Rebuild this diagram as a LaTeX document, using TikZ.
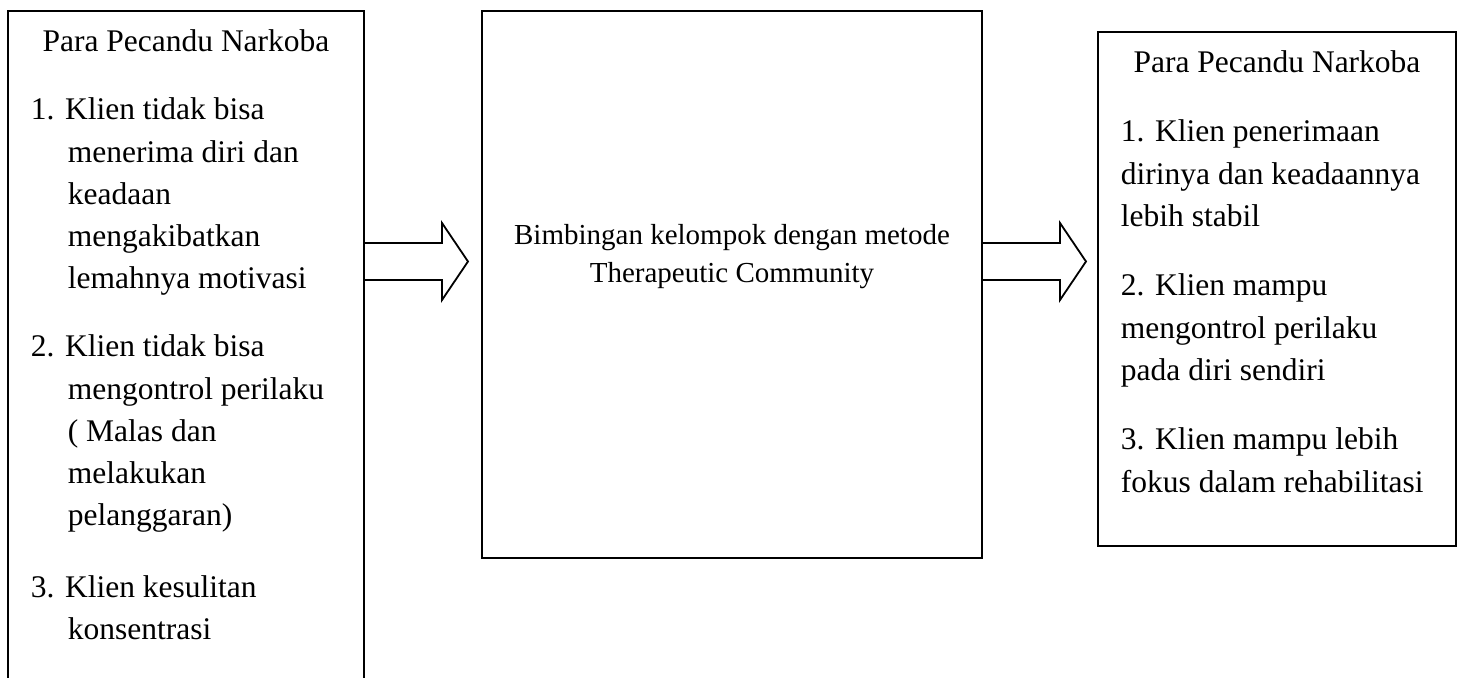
\documentclass[tikz,border=0pt]{standalone}
\usepackage{fontspec}
\setmainfont{Liberation Serif}
\usetikzlibrary{calc}
\newcommand{\tlines}[1]{\begin{tabular}[t]{@{}l@{}}#1\end{tabular}}
\newcommand{\clines}[1]{\begin{tabular}[t]{@{}c@{}}#1\end{tabular}}
\begin{document}
\begin{tikzpicture}[x=0.5pt,y=-0.5pt,line width=0.9pt,
  boxnode/.style={inner sep=0pt,outer sep=0pt,anchor=north west},
  bigtext/.style={font=\fontsize{15.75}{21.1}\selectfont,inner sep=0pt},
  midtext/.style={font=\fontsize{14.5}{19}\selectfont,inner sep=0pt},
  blockarrow/.style={draw,line join=miter}]
\useasboundingbox (0,0) rectangle (1463,678);
% boxes
\node[boxnode,minimum width=178pt,minimum height=333.5pt] (L) at (8,11) {};
\draw (L.south west) -- (L.north west) -- (L.north east) -- (L.south east);
\node[boxnode,draw,minimum width=250pt,minimum height=273.5pt] (M) at (482,11) {};
\node[boxnode,draw,minimum width=179pt,minimum height=257pt] (R) at (1098,32) {};
% block arrows
\draw[blockarrow] ($(L.north east)+(0,232)$) -- ++(78,0) -- ++(0,-20) -- ++(26,38.5)
  -- ++(-26,38.5) -- ++(0,-20) -- ($(L.north east)+(0,269)$) -- cycle;
\draw[blockarrow] ($(M.north east)+(0,232)$) -- ++(78,0) -- ++(0,-20) -- ++(26,38.5)
  -- ++(-26,38.5) -- ++(0,-20) -- ($(M.north east)+(0,269)$) -- cycle;
% left texts
\node[bigtext,anchor=base] (Lt) at (186,52) {Para Pecandu Narkoba};
\node[bigtext,anchor=base west] (L1) at (30,120) {\tlines{1. Klien tidak bisa\\
  \hspace*{18.5pt}menerima diri dan\\
  \hspace*{18.5pt}keadaan\\
  \hspace*{18.5pt}mengakibatkan\\
  \hspace*{18.5pt}lemahnya motivasi}};
\node[bigtext,anchor=base west] (L2) at (30,357) {\tlines{2. Klien tidak bisa\\
  \hspace*{18.5pt}mengontrol perilaku\\
  \hspace*{18.5pt}( Malas dan\\
  \hspace*{18.5pt}melakukan\\
  \hspace*{18.5pt}pelanggaran)}};
\node[bigtext,anchor=base west] (L3) at (30,597) {\tlines{3. Klien kesulitan\\
  \hspace*{18.5pt}konsentrasi}};
% middle text
\node[midtext,anchor=base] (Mt) at (732,245) {\clines{Bimbingan kelompok dengan metode\\Therapeutic Community}};
% right texts
\node[bigtext,anchor=base] (Rt) at (1277,73) {Para Pecandu Narkoba};
\node[bigtext,anchor=base west] (R1) at (1120,142) {\tlines{1. Klien penerimaan\\dirinya dan keadaannya\\lebih stabil}};
\node[bigtext,anchor=base west] (R2) at (1120,296) {\tlines{2. Klien mampu\\mengontrol perilaku\\pada diri sendiri}};
\node[bigtext,anchor=base west] (R3) at (1120,450) {\tlines{3. Klien mampu lebih\\fokus dalam rehabilitasi}};
\end{tikzpicture}
\end{document}
